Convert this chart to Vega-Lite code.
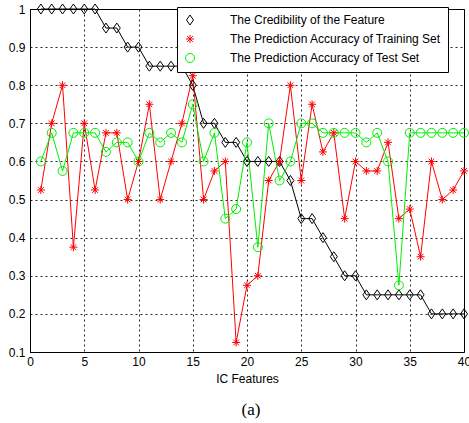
{
  "$schema": "https://vega.github.io/schema/vega-lite/v6.json",
  "width": 434,
  "height": 343,
  "autosize": {"type": "none"},
  "padding": {"left": 30, "top": 9, "right": 5, "bottom": 71},
  "background": "white",
  "data": {"values": [
    {"x": 1, "The Credibility of the Feature": 1, "The Prediction Accuracy of Training Set": 0.525, "The Prediction Accuracy of Test Set": 0.6},
    {"x": 2, "The Credibility of the Feature": 1, "The Prediction Accuracy of Training Set": 0.7, "The Prediction Accuracy of Test Set": 0.675},
    {"x": 3, "The Credibility of the Feature": 1, "The Prediction Accuracy of Training Set": 0.8, "The Prediction Accuracy of Test Set": 0.575},
    {"x": 4, "The Credibility of the Feature": 1, "The Prediction Accuracy of Training Set": 0.375, "The Prediction Accuracy of Test Set": 0.675},
    {"x": 5, "The Credibility of the Feature": 1, "The Prediction Accuracy of Training Set": 0.7, "The Prediction Accuracy of Test Set": 0.675},
    {"x": 6, "The Credibility of the Feature": 1, "The Prediction Accuracy of Training Set": 0.525, "The Prediction Accuracy of Test Set": 0.675},
    {"x": 7, "The Credibility of the Feature": 0.95, "The Prediction Accuracy of Training Set": 0.675, "The Prediction Accuracy of Test Set": 0.625},
    {"x": 8, "The Credibility of the Feature": 0.95, "The Prediction Accuracy of Training Set": 0.675, "The Prediction Accuracy of Test Set": 0.65},
    {"x": 9, "The Credibility of the Feature": 0.9, "The Prediction Accuracy of Training Set": 0.5, "The Prediction Accuracy of Test Set": 0.65},
    {"x": 10, "The Credibility of the Feature": 0.9, "The Prediction Accuracy of Training Set": 0.6, "The Prediction Accuracy of Test Set": 0.6},
    {"x": 11, "The Credibility of the Feature": 0.85, "The Prediction Accuracy of Training Set": 0.75, "The Prediction Accuracy of Test Set": 0.675},
    {"x": 12, "The Credibility of the Feature": 0.85, "The Prediction Accuracy of Training Set": 0.5, "The Prediction Accuracy of Test Set": 0.65},
    {"x": 13, "The Credibility of the Feature": 0.85, "The Prediction Accuracy of Training Set": 0.6, "The Prediction Accuracy of Test Set": 0.675},
    {"x": 14, "The Credibility of the Feature": 0.85, "The Prediction Accuracy of Training Set": 0.7, "The Prediction Accuracy of Test Set": 0.65},
    {"x": 15, "The Credibility of the Feature": 0.8, "The Prediction Accuracy of Training Set": 0.825, "The Prediction Accuracy of Test Set": 0.75},
    {"x": 16, "The Credibility of the Feature": 0.7, "The Prediction Accuracy of Training Set": 0.5, "The Prediction Accuracy of Test Set": 0.6},
    {"x": 17, "The Credibility of the Feature": 0.7, "The Prediction Accuracy of Training Set": 0.575, "The Prediction Accuracy of Test Set": 0.675},
    {"x": 18, "The Credibility of the Feature": 0.65, "The Prediction Accuracy of Training Set": 0.6, "The Prediction Accuracy of Test Set": 0.45},
    {"x": 19, "The Credibility of the Feature": 0.65, "The Prediction Accuracy of Training Set": 0.125, "The Prediction Accuracy of Test Set": 0.475},
    {"x": 20, "The Credibility of the Feature": 0.6, "The Prediction Accuracy of Training Set": 0.275, "The Prediction Accuracy of Test Set": 0.65},
    {"x": 21, "The Credibility of the Feature": 0.6, "The Prediction Accuracy of Training Set": 0.3, "The Prediction Accuracy of Test Set": 0.375},
    {"x": 22, "The Credibility of the Feature": 0.6, "The Prediction Accuracy of Training Set": 0.55, "The Prediction Accuracy of Test Set": 0.7},
    {"x": 23, "The Credibility of the Feature": 0.6, "The Prediction Accuracy of Training Set": 0.6, "The Prediction Accuracy of Test Set": 0.55},
    {"x": 24, "The Credibility of the Feature": 0.55, "The Prediction Accuracy of Training Set": 0.8, "The Prediction Accuracy of Test Set": 0.6},
    {"x": 25, "The Credibility of the Feature": 0.45, "The Prediction Accuracy of Training Set": 0.55, "The Prediction Accuracy of Test Set": 0.7},
    {"x": 26, "The Credibility of the Feature": 0.45, "The Prediction Accuracy of Training Set": 0.75, "The Prediction Accuracy of Test Set": 0.7},
    {"x": 27, "The Credibility of the Feature": 0.4, "The Prediction Accuracy of Training Set": 0.625, "The Prediction Accuracy of Test Set": 0.675},
    {"x": 28, "The Credibility of the Feature": 0.35, "The Prediction Accuracy of Training Set": 0.675, "The Prediction Accuracy of Test Set": 0.675},
    {"x": 29, "The Credibility of the Feature": 0.3, "The Prediction Accuracy of Training Set": 0.45, "The Prediction Accuracy of Test Set": 0.675},
    {"x": 30, "The Credibility of the Feature": 0.3, "The Prediction Accuracy of Training Set": 0.6, "The Prediction Accuracy of Test Set": 0.675},
    {"x": 31, "The Credibility of the Feature": 0.25, "The Prediction Accuracy of Training Set": 0.575, "The Prediction Accuracy of Test Set": 0.65},
    {"x": 32, "The Credibility of the Feature": 0.25, "The Prediction Accuracy of Training Set": 0.575, "The Prediction Accuracy of Test Set": 0.675},
    {"x": 33, "The Credibility of the Feature": 0.25, "The Prediction Accuracy of Training Set": 0.65, "The Prediction Accuracy of Test Set": 0.6},
    {"x": 34, "The Credibility of the Feature": 0.25, "The Prediction Accuracy of Training Set": 0.45, "The Prediction Accuracy of Test Set": 0.275},
    {"x": 35, "The Credibility of the Feature": 0.25, "The Prediction Accuracy of Training Set": 0.475, "The Prediction Accuracy of Test Set": 0.675},
    {"x": 36, "The Credibility of the Feature": 0.25, "The Prediction Accuracy of Training Set": 0.35, "The Prediction Accuracy of Test Set": 0.675},
    {"x": 37, "The Credibility of the Feature": 0.2, "The Prediction Accuracy of Training Set": 0.6, "The Prediction Accuracy of Test Set": 0.675},
    {"x": 38, "The Credibility of the Feature": 0.2, "The Prediction Accuracy of Training Set": 0.5, "The Prediction Accuracy of Test Set": 0.675},
    {"x": 39, "The Credibility of the Feature": 0.2, "The Prediction Accuracy of Training Set": 0.525, "The Prediction Accuracy of Test Set": 0.675},
    {"x": 40, "The Credibility of the Feature": 0.2, "The Prediction Accuracy of Training Set": 0.575, "The Prediction Accuracy of Test Set": 0.675}
  ]},
  "title": {"text": "(a)", "orient": "bottom", "font": "Liberation Serif", "fontSize": 17, "fontWeight": "normal", "color": "black", "offset": 18, "dx": 4},
  "encoding": {
    "x": {"field": "x", "type": "quantitative", "scale": {"domain": [0, 40], "nice": false, "zero": false},
      "axis": {"values": [0, 5, 10, 15, 20, 25, 30, 35, 40], "title": "IC Features"}},
    "y": {"field": "v", "type": "quantitative", "scale": {"domain": [0.1, 1], "nice": false, "zero": false},
      "axis": {"values": [0.1, 0.2, 0.3, 0.4, 0.5, 0.6, 0.7, 0.8, 0.9, 1], "format": ".1~f", "title": null}}
  },
  "layer": [
    {
      "transform": [{"fold": ["The Credibility of the Feature", "The Prediction Accuracy of Training Set", "The Prediction Accuracy of Test Set"], "as": ["s2", "v"]}],
      "mark": {"type": "line", "strokeWidth": 1},
      "encoding": {
        "stroke": {"field": "s2", "type": "nominal", "scale": {"range": ["black", "#00ee00", "red"]}, "legend": null}
      }
    },
    {
      "transform": [{"fold": ["The Credibility of the Feature", "The Prediction Accuracy of Training Set", "The Prediction Accuracy of Test Set"], "as": ["series", "v"]}],
      "mark": {"type": "point", "filled": false, "strokeWidth": 1, "opacity": 1, "size": 100},
      "encoding": {
        "color": {"field": "series", "type": "nominal", "scale": {"domain": ["The Credibility of the Feature", "The Prediction Accuracy of Training Set", "The Prediction Accuracy of Test Set"], "range": ["black", "red", "#00ee00"]},
          "legend": {
            "title": null, "orient": "none", "legendX": 147, "legendY": -2,
            "labelFont": "Liberation Sans", "labelFontSize": 12, "labelColor": "black", "labelLimit": 400,
            "labelOffset": 34, "symbolSize": 100, "symbolStrokeWidth": 1,
            "strokeColor": "black", "fillColor": "white", "padding": 7, "rowPadding": 6,
            "encode": {"symbols": {"shape": {
              "condition": [
                {"test": "datum.value == 'The Credibility of the Feature'", "value": "M-1,0L2.3,0M3.7,0L7,0M3,-1L3.7,0L3,1L2.3,0Z"},
                {"test": "datum.value == 'The Prediction Accuracy of Training Set'", "value": "M-1,0L7,0M3,-0.8L3,0.8M2.43,-0.57L3.57,0.57M2.43,0.57L3.57,-0.57"}
              ],
              "value": "M-1,0L2.1,0M3.9,0L7,0M2.1,0A0.9,0.9 0 1,0 3.9,0A0.9,0.9 0 1,0 2.1,0"}}}
          }},
        "shape": {"field": "series", "type": "nominal", "scale": {"domain": ["The Credibility of the Feature", "The Prediction Accuracy of Training Set", "The Prediction Accuracy of Test Set"], "range": ["M0,-1L0.7,0L0,1L-0.7,0Z", "M0,-0.8L0,0.8M-0.8,0L0.8,0M-0.57,-0.57L0.57,0.57M-0.57,0.57L0.57,-0.57", "M-0.9,0A0.9,0.9 0 1,0 0.9,0A0.9,0.9 0 1,0 -0.9,0"]},
          "legend": {
            "title": null, "orient": "none", "legendX": 147, "legendY": -2,
            "labelFont": "Liberation Sans", "labelFontSize": 12, "labelColor": "black", "labelLimit": 400,
            "labelOffset": 34, "symbolSize": 100, "symbolStrokeWidth": 1,
            "strokeColor": "black", "fillColor": "white", "padding": 7, "rowPadding": 6,
            "encode": {"symbols": {"shape": {
              "condition": [
                {"test": "datum.value == 'The Credibility of the Feature'", "value": "M-1,0L2.3,0M3.7,0L7,0M3,-1L3.7,0L3,1L2.3,0Z"},
                {"test": "datum.value == 'The Prediction Accuracy of Training Set'", "value": "M-1,0L7,0M3,-0.8L3,0.8M2.43,-0.57L3.57,0.57M2.43,0.57L3.57,-0.57"}
              ],
              "value": "M-1,0L2.1,0M3.9,0L7,0M2.1,0A0.9,0.9 0 1,0 3.9,0A0.9,0.9 0 1,0 2.1,0"}}}
          }}
      }
    }
  ],
  "config": {
    "view": {"stroke": "black", "strokeWidth": 1},
    "axis": {
      "domainColor": "black", "gridColor": "black", "gridDash": [2, 3], "gridOpacity": 0.85,
      "ticks": false, "labelFlush": false, "labelOverlap": false,
      "labelFont": "Liberation Sans", "labelFontSize": 12, "labelColor": "black", "labelPadding": 5,
      "titleFont": "Liberation Sans", "titleFontSize": 12, "titleFontWeight": "normal", "titleColor": "black", "titlePadding": 6
    },
    "axisX": {"labelPadding": 4}
  }
}
